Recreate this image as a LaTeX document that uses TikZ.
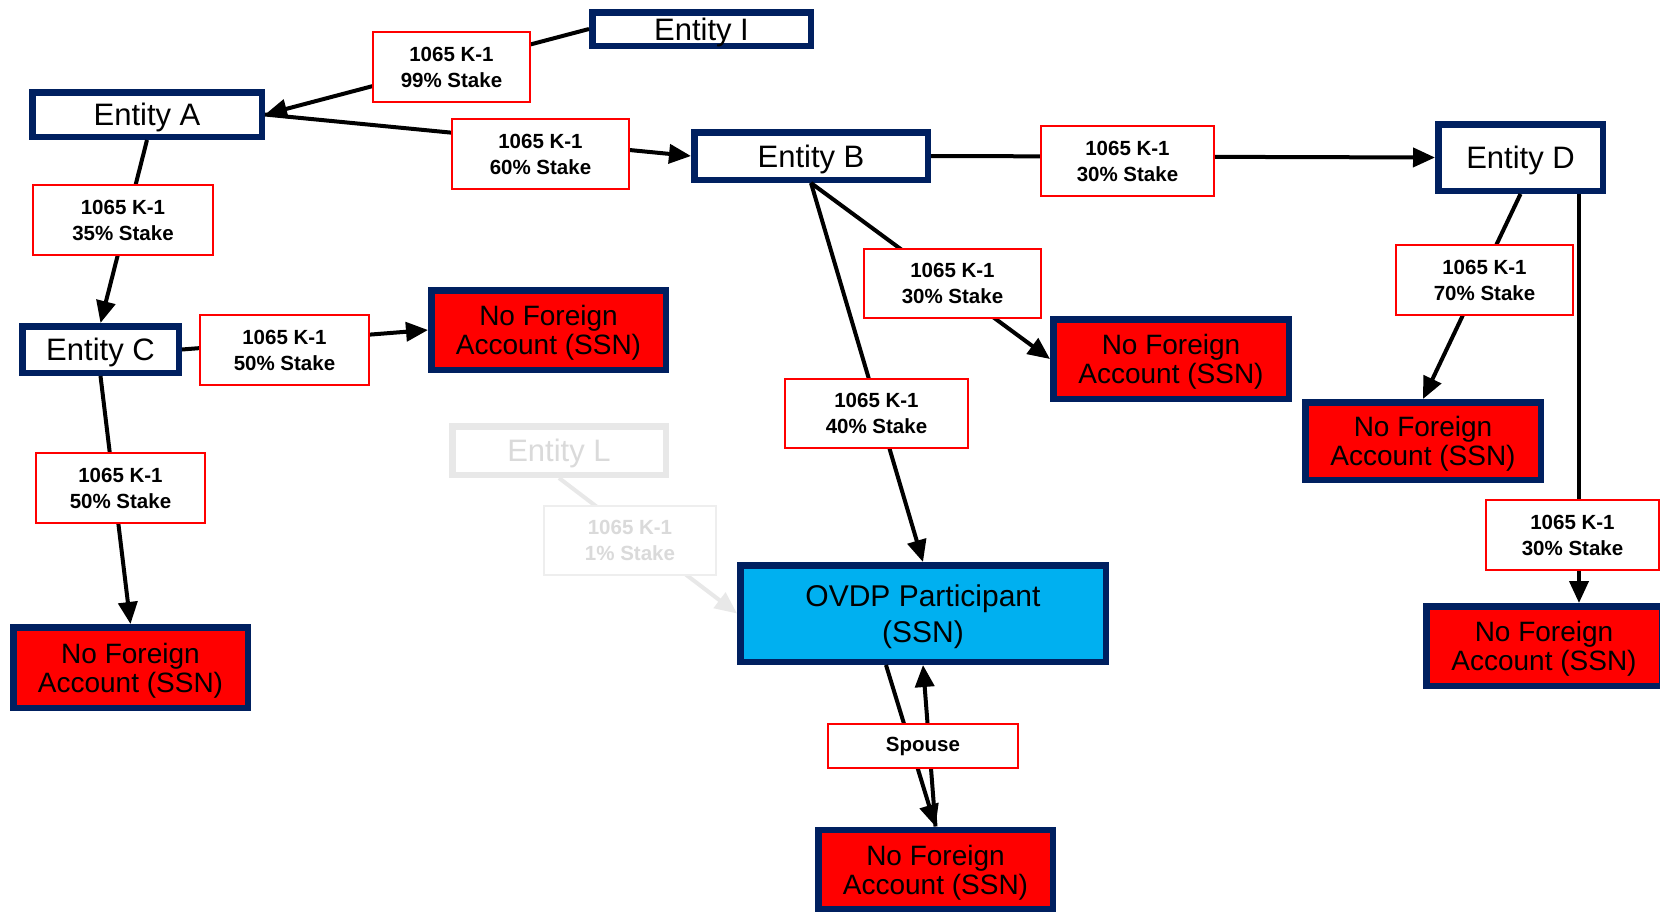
\documentclass[tikz,border=0pt]{standalone}
\usepackage{fontspec}
\setmainfont{Liberation Sans}
\usetikzlibrary{arrows.meta}
\definecolor{navy}{HTML}{002060}
\definecolor{ovdpblue}{HTML}{00B0F0}
\definecolor{ghostline}{HTML}{E8E8E8}
\definecolor{ghosttext}{HTML}{DADADA}
\definecolor{ghostbox}{HTML}{EEEEEE}
\tikzset{
  ent/.style={draw=navy, line width=6.5pt, fill=white, inner sep=0pt, text depth=0pt, font=\fontsize{31}{31}\selectfont},
  nfa/.style={draw=navy, line width=6.5pt, fill=red, inner sep=0pt, align=center, text depth=0pt, font=\fontsize{28}{29}\selectfont},
  ovdpbox/.style={draw=navy, line width=6.5pt, fill=ovdpblue, inner sep=0pt, align=center, text depth=0pt, font=\fontsize{30}{36}\selectfont},
  lbl/.style={draw=red, line width=2pt, fill=white, inner sep=0pt, align=center, font=\bfseries\fontsize{20.5}{26}\selectfont},
  conn/.style={line width=4pt, -{Triangle[length=22pt,width=19pt]}},
  sz/.style 2 args={minimum width=#1, minimum height=#2},
}
\begin{document}
\begin{tikzpicture}[x=1pt, y=-1pt]
\fill[white] (0,0) rectangle (1660,911);
\useasboundingbox (0,0) rectangle (1660,911);

% entity boxes
\node[ent, sz={218.5pt}{33.5pt}] (eI) at (701.5,29) {Entity I};
\node[ent, sz={229.5pt}{44.5pt}] (eA) at (147,114.5) {Entity A};
\node[ent, sz={233.5pt}{47.5pt}] (eB) at (811,156) {Entity B};
\node[ent, sz={156.5pt}{46.5pt}] (eC) at (100.5,349.5) {Entity C};
\node[ent, sz={164.5pt}{66.5pt}] (eD) at (1520.5,157.5) {Entity D};
\node[ent, draw=ghostline, text=ghosttext, sz={213.5pt}{48.5pt}] (eL) at (559,450.5) {Entity L};

\node[nfa, sz={234.5pt}{79.5pt}] (nfa1) at (548.5,330) {No Foreign\\Account (SSN)};
\node[nfa, sz={235.5pt}{79.5pt}] (nfa2) at (1171,359) {No Foreign\\Account (SSN)};
\node[nfa, sz={235.5pt}{77.5pt}] (nfa3) at (1423,441) {No Foreign\\Account (SSN)};
\node[nfa, sz={234.5pt}{80.5pt}] (nfa4) at (130.5,667.5) {No Foreign\\Account (SSN)};
\node[nfa, sz={235.5pt}{79.5pt}] (nfa5) at (1544,646) {No Foreign\\Account (SSN)};
\node[nfa, sz={234.5pt}{79.5pt}] (nfa6) at (935.5,869.5) {No Foreign\\Account (SSN)};
\node[ovdpbox, sz={365.5pt}{96.5pt}] (ovdp) at (923,613.5) {OVDP Participant\\(SSN)};

% connectors
\draw[conn] (eI.west) -- (eA.east);
\draw[conn] (eA.east) -- (eB.west);
\draw[conn] (eA.south) -- (eC.north);
\draw[conn] (eC.east) -- (nfa1.west);
\draw[conn] (eC.south) -- (nfa4.north);
\draw[conn] (eB.east) -- (eD.west);
\draw[conn] (eB.south) -- (nfa2.west);
\draw[conn] (eB.south) -- (ovdp.north);
\draw[conn] (eD.south) -- (nfa3.north);
\draw[conn] ([xshift=58.5pt]eD.south) -- ([xshift=58.5pt]eD.south |- nfa5.north);
\draw[conn, draw=ghostline, fill=ghostline] (eL.south) -- (ovdp.west);
\draw[conn] ([xshift=-37pt]ovdp.south) -- (nfa6.north);
\draw[conn] (nfa6.north) -- (ovdp.south);

% labels
\node[lbl, sz={157pt}{70pt}] (l99) at (451.5,67) {1065 K-1\\99\% Stake};
\node[lbl, sz={177pt}{70pt}] (l60) at (540.5,154) {1065 K-1\\60\% Stake};
\node[lbl, sz={173pt}{70pt}] (lbd) at (1127.5,161) {1065 K-1\\30\% Stake};
\node[lbl, sz={180pt}{70pt}] (l35) at (123,220) {1065 K-1\\35\% Stake};
\node[lbl, sz={169pt}{70pt}] (lc50a) at (284.5,350) {1065 K-1\\50\% Stake};
\node[lbl, sz={177pt}{69pt}] (lbn) at (952.5,283.5) {1065 K-1\\30\% Stake};
\node[lbl, sz={183pt}{69pt}] (l40) at (876.5,413.5) {1065 K-1\\40\% Stake};
\node[lbl, sz={177pt}{70pt}] (l70) at (1484.5,280) {1065 K-1\\70\% Stake};
\node[lbl, sz={169pt}{70pt}] (lc50b) at (120.5,488) {1065 K-1\\50\% Stake};
\node[lbl, draw=ghostbox, text=ghosttext, sz={172pt}{69pt}] (l1) at (630,540.5) {1065 K-1\\1\% Stake};
\node[lbl, sz={173pt}{70pt}] (ld30) at (1572.5,535) {1065 K-1\\30\% Stake};
\node[lbl, sz={190pt}{44pt}] (lsp) at (923,746) {Spouse};
\end{tikzpicture}
\end{document}
